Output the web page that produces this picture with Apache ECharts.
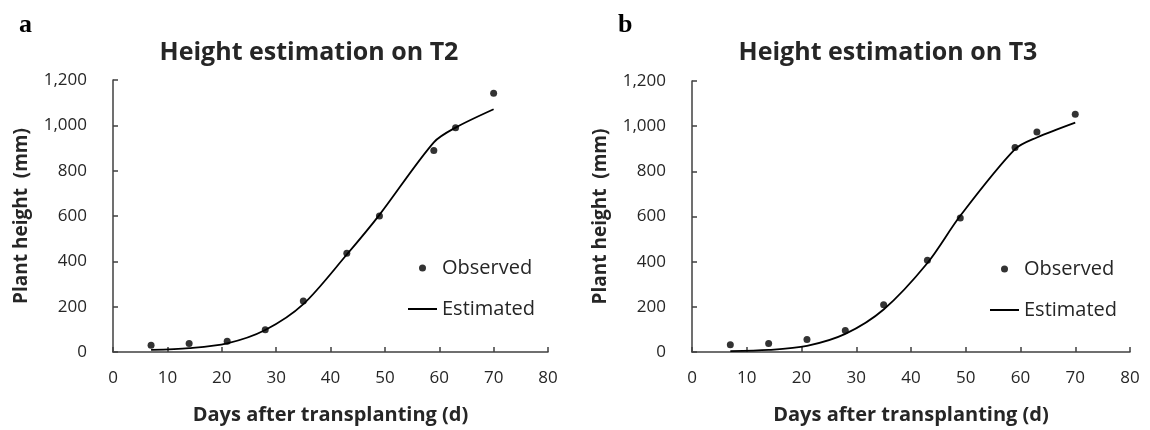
<!DOCTYPE html>
<html><head><meta charset="utf-8">
<script src="https://cdn.jsdelivr.net/npm/echarts@6/dist/echarts.min.js"></script>
<style>html,body{margin:0;padding:0;background:#fff}#c{width:1150px;height:430px}</style>
</head><body><div id="c"></div>
<script>
// ---- data ----
var days = [7, 14, 21, 28, 35, 43, 49, 59, 63, 70];
var t2Observed  = [30, 38, 47, 98, 225, 436, 600, 889, 989, 1142];
var t2Estimated = [9, 17, 38, 97, 211, 430, 605, 925, 990, 1071];
var t3Observed  = [32, 38, 55, 95, 209, 406, 593, 906, 974, 1053];
var t3Estimated = [4, 9, 27, 80, 188, 394, 603, 898, 950, 1016];
var yTickLabels = ['0', '200', '400', '600', '800', '1,000', '1,200'];
var xTickLabels = ['0', '10', '20', '30', '40', '50', '60', '70', '80'];
var panelTitles = ['Height estimation on T2', 'Height estimation on T3'];
var panelLetters = ['a', 'b'];
var seriesNames = ['Observed', 'Estimated'];
var xAxisName = 'Days after transplanting (d)';
var yAxisName = 'Plant height  (mm)';

function pairs(xs, ys) { return xs.map(function (x, i) { return [x, ys[i]]; }); }

var FONT = '"Open Sans"';
var TXT = '#262626';
var AX = '#404040';

var grids = [
  { left: 113, top: 80, width: 435, height: 273 },
  { left: 692, top: 81, width: 438, height: 273 }
];

function xAx(i) {
  return {
    type: 'value', gridIndex: i, min: 0, max: 80, interval: 10,
    name: xAxisName, nameLocation: 'middle', nameGap: 53,
    nameTextStyle: { fontFamily: FONT, fontWeight: 'bold', fontSize: 20, color: TXT },
    axisLine: { show: true, lineStyle: { color: AX, width: 1.5 } },
    axisTick: { show: true, inside: true, length: 5, lineStyle: { color: AX, width: 1.5 } },
    axisLabel: { fontFamily: FONT, fontSize: 17, color: TXT, margin: 18,
      formatter: function (v) { return xTickLabels[Math.round(v / 10)]; } },
    splitLine: { show: false }
  };
}
function yAx(i) {
  return {
    type: 'value', gridIndex: i, min: 0, max: 1200, interval: 200,
    name: yAxisName, nameLocation: 'middle', nameGap: 82, nameRotate: 90,
    nameTextStyle: { fontFamily: FONT, fontWeight: 'bold', fontSize: 19, color: TXT },
    axisLine: { show: true, lineStyle: { color: AX, width: 1.5 } },
    axisTick: { show: true, inside: true, length: 5, lineStyle: { color: AX, width: 1.5 } },
    axisLabel: { fontFamily: FONT, fontSize: 17, color: TXT, margin: 26,
      formatter: function (v) { return yTickLabels[Math.round(v / 200)]; } },
    splitLine: { show: false }
  };
}

var obsData = [t2Observed, t3Observed];
var estData = [t2Estimated, t3Estimated];
var series = [];
for (var i = 0; i < 2; i++) {
  series.push({
    name: seriesNames[0], type: 'scatter', xAxisIndex: i, yAxisIndex: i,
    data: pairs(days, obsData[i]), symbol: 'circle', symbolSize: 7,
    itemStyle: { color: '#000' }, z: 3
  });
  series.push({
    name: seriesNames[1], type: 'line', xAxisIndex: i, yAxisIndex: i,
    data: pairs(days, estData[i]), symbol: 'none', smooth: 0.3,
    lineStyle: { color: '#000', width: 1.8 }, itemStyle: { color: '#000' }, z: 2
  });
}

function legend(left, top) {
  return {
    orient: 'vertical', left: left, top: top, padding: 0, itemWidth: 29, itemHeight: 7,
    itemGap: 21, selectedMode: false,
    textStyle: { fontFamily: FONT, fontSize: 20, color: TXT, lineHeight: 20 },
    data: [
      { name: seriesNames[0], icon: 'circle' },
      { name: seriesNames[1], itemStyle: { opacity: 0 } }
    ]
  };
}

var option = {
  backgroundColor: '#fff',
  animation: false,
  title: [
    { text: panelTitles[0], left: 304, top: 35, textAlign: 'center',
      textStyle: { fontFamily: FONT, fontWeight: 'bold', fontSize: 25, color: TXT } },
    { text: panelTitles[1], left: 883, top: 35, textAlign: 'center',
      textStyle: { fontFamily: FONT, fontWeight: 'bold', fontSize: 25, color: TXT } }
  ],
  graphic: [
    { type: 'text', left: 19, top: 12, style: { text: panelLetters[0], font: 'bold 26px "Liberation Serif"', fill: '#000' } },
    { type: 'text', left: 618, top: 12, style: { text: panelLetters[1], font: 'bold 26px "Liberation Serif"', fill: '#000' } }
  ],
  legend: [legend(407, 258), legend(989, 259)],
  grid: grids,
  xAxis: [xAx(0), xAx(1)],
  yAxis: [yAx(0), yAx(1)],
  series: series
};
var chart = echarts.init(document.getElementById('c'), null, { renderer: 'canvas' });
chart.setOption(option);
</script></body></html>
